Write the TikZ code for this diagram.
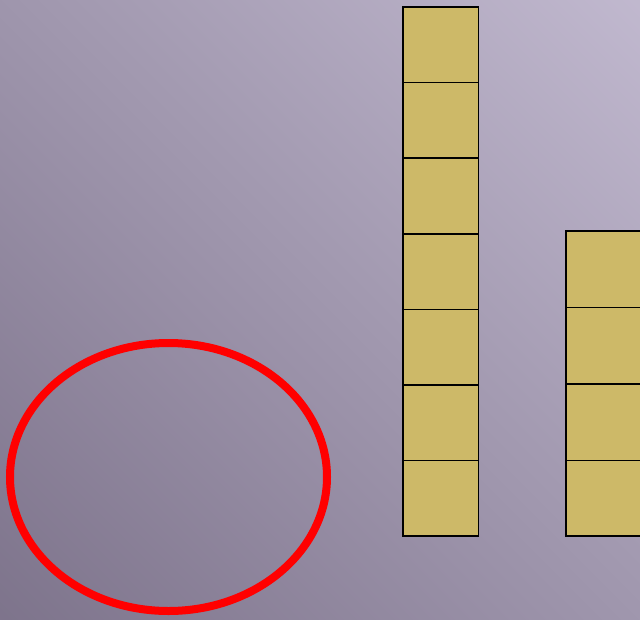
\documentclass[tikz,border=0pt]{standalone}
\usetikzlibrary{positioning,shapes.geometric}
\definecolor{bgDark}{RGB}{112,102,126}
\definecolor{bgLight}{RGB}{206,198,220}
\definecolor{tileFill}{RGB}{205,185,104}
\pgfdeclareverticalshading{bgShade}{100bp}{color(0bp)=(bgDark); color(100bp)=(bgLight)}
\begin{document}
\begin{tikzpicture}[x=1pt, y=-1pt,
  tile/.style={rectangle, draw, line width=1.5pt, fill=tileFill, minimum size=75.6pt, inner sep=0pt, outer sep=0pt},
  ring/.style={ellipse, draw=red, line width=8pt, minimum width=317pt, minimum height=268pt, inner sep=0pt}
]
\shade[shading=bgShade, shading angle=-45] (0,0) rectangle (640,619);
\useasboundingbox (0,0) rectangle (640,619);
% ring on the left
\node[ring] (loop) at (168.5,477) {};
% tall column
\node[tile] (a1) at (440.7,44.8) {};
\foreach \i [count=\j from 2] in {1,...,6}
  \node[tile, below=0pt of a\i] (a\j) {};
% short column, cut at the right edge
\node[tile] (b1) at (604,498.2) {};
\foreach \i [count=\j from 2] in {1,2,3}
  \node[tile, above=0pt of b\i, minimum height=76.5pt] (b\j) {};
\end{tikzpicture}
\end{document}
